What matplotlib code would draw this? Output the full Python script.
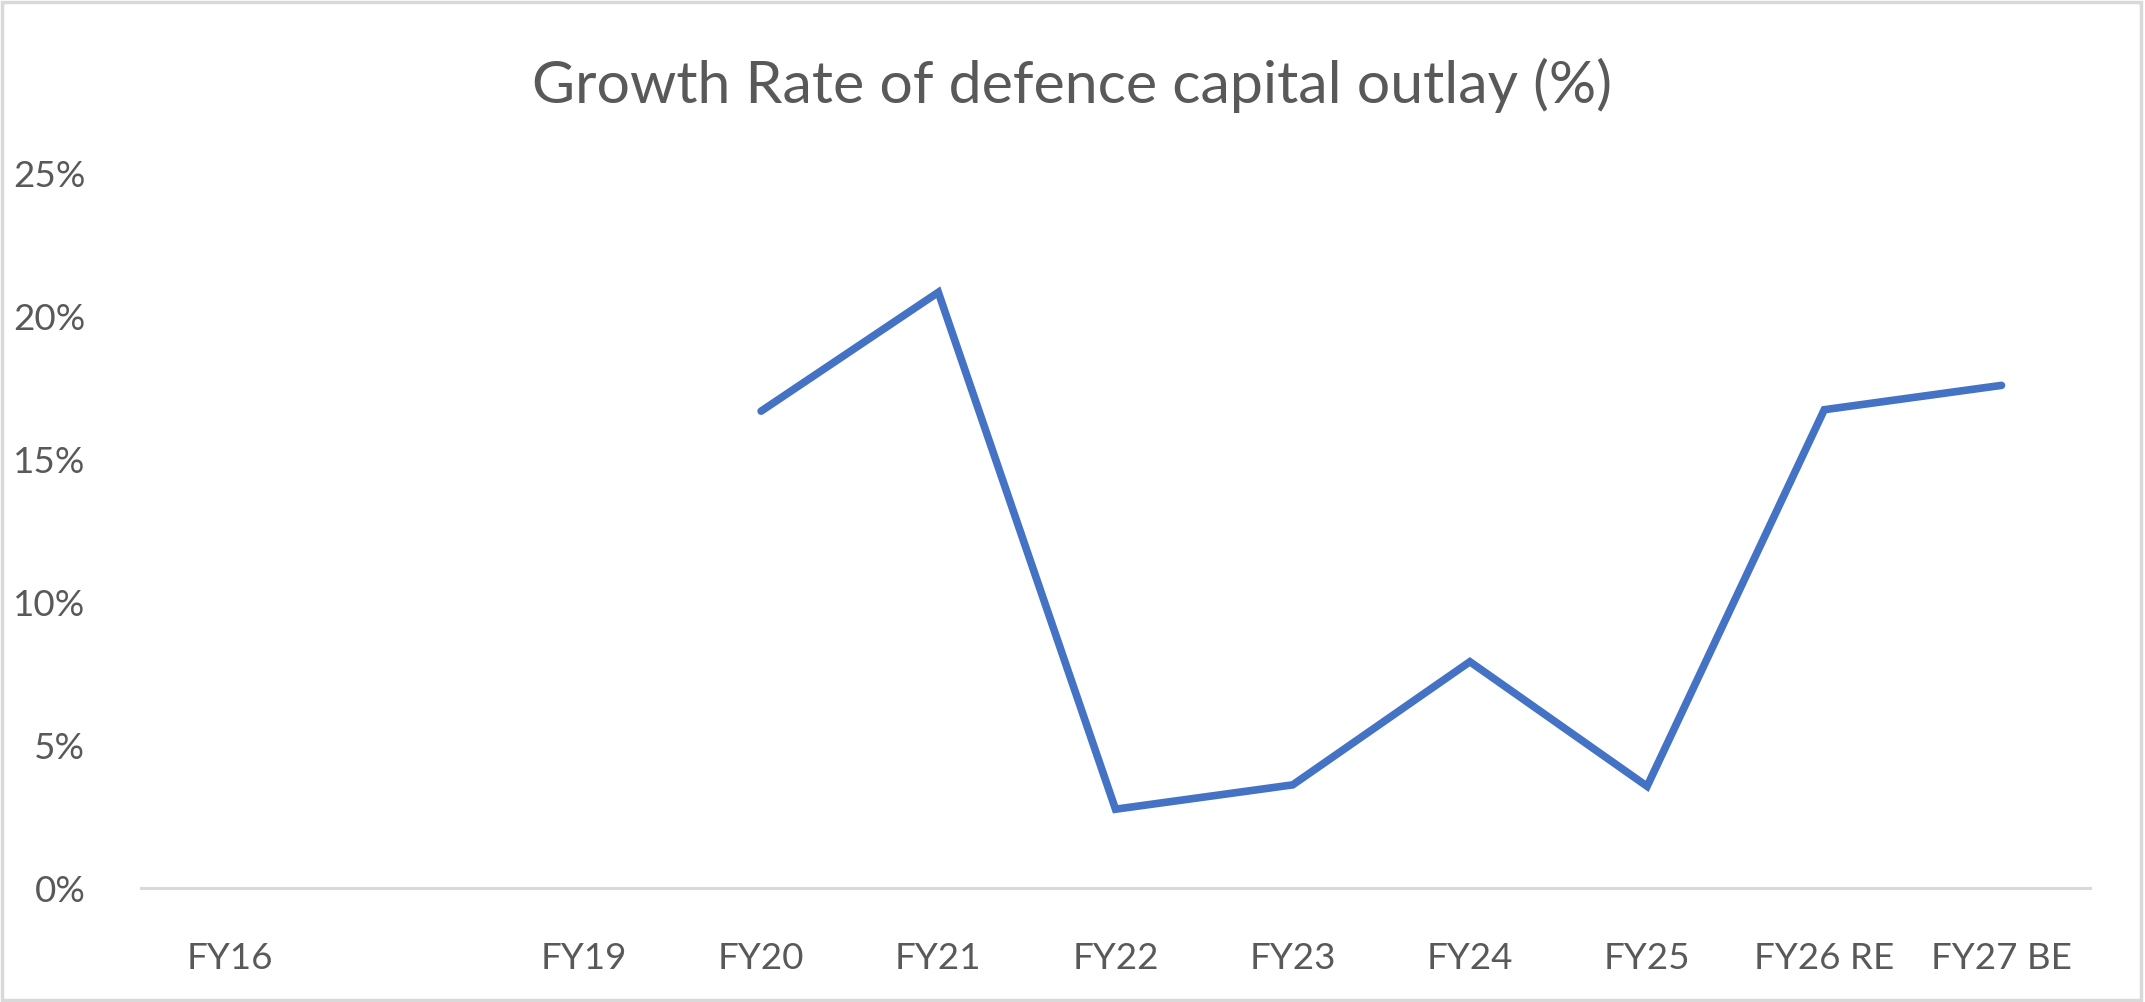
import numpy as np
import matplotlib.pyplot as plt
from matplotlib.patches import Rectangle

categories = ['FY16', '', 'FY19', 'FY20', 'FY21', 'FY22', 'FY23',
              'FY24', 'FY25', 'FY26 RE', 'FY27 BE']
growth_pct = [np.nan, np.nan, np.nan, 16.65, 20.8, 2.75, 3.6,
              7.9, 3.55, 16.7, 17.55]
y_ticks = [0, 5, 10, 15, 20, 25]

TEXT = '#595959'
LINE = '#4472C4'
GRID = '#D9D9D9'

plt.rcParams['font.family'] = ['Lato', 'DejaVu Sans']

fig = plt.figure(figsize=(21.45, 10.03), dpi=100)
ax = fig.add_axes([0.0657, 0.1137, 0.9087, 0.7138])

x = np.arange(len(categories))
ax.plot(x, growth_pct, color=LINE, linewidth=5.5,
        solid_capstyle='round', solid_joinstyle='miter')

ax.set_xlim(-0.5, len(categories) - 0.5)
ax.set_ylim(0, 25)
ax.set_xticks(x)
ax.set_xticklabels(categories)
ax.set_yticks(y_ticks)
ax.set_yticklabels([f'{v}%' for v in y_ticks])
ax.tick_params(axis='both', length=0, labelsize=26.5, colors=TEXT)
ax.tick_params(axis='x', pad=38)
ax.tick_params(axis='y', pad=40)

for side in ['top', 'right', 'left']:
    ax.spines[side].set_visible(False)
ax.spines['bottom'].set_color(GRID)
ax.spines['bottom'].set_linewidth(2.2)

fig.text(0.5, 0.915, 'Growth Rate of defence capital outlay (%)',
         ha='center', va='center', fontsize=42.5, color=TEXT)

# light frame round the chart area
fig.patches.append(Rectangle((0.001, 0.002), 0.997, 0.995,
                             transform=fig.transFigure, fill=False,
                             edgecolor=GRID, linewidth=2.5))

fig.savefig('out.png', dpi=100)
